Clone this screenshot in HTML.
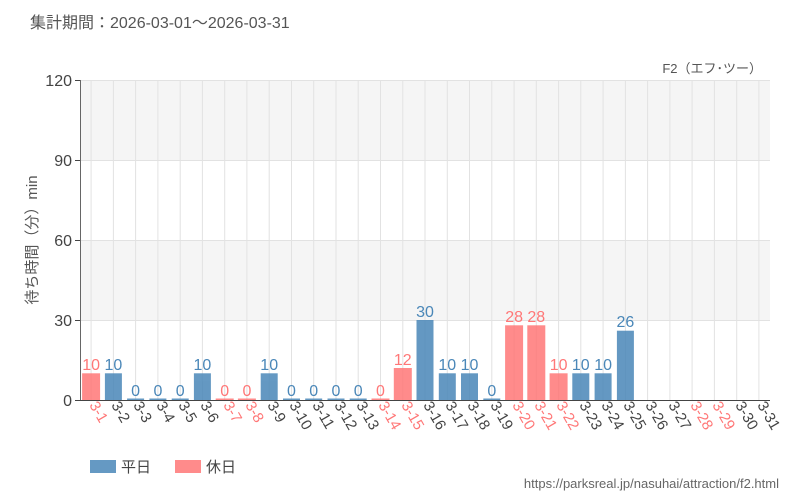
<!DOCTYPE html>
<html><head><meta charset="utf-8"><style>
body{margin:0;background:#fff;}
svg{display:block;font-family:"Liberation Sans","Noto Sans CJK JP",sans-serif;}
.v{font-family:"Liberation Sans Narrow","Liberation Sans",sans-serif;font-size:16px;text-anchor:middle;}
.b{fill:#4a87b8}.h{fill:#f77}
.x{font-size:15px;}
</style></head><body>
<svg width="800" height="500" viewBox="0 0 800 500">
<text x="30" y="28" font-size="16" fill="#555">集計期間：2026-03-01～2026-03-31</text>
<text x="762" y="73" font-size="13" fill="#555" text-anchor="end">F2（エフ･ツー）</text>
<rect x="80" y="80" width="690" height="80" fill="#f5f5f5"/>
<rect x="80" y="240" width="690" height="80" fill="#f5f5f5"/>
<g stroke="#e2e2e2" stroke-width="1">
<line x1="80" y1="80.5" x2="770" y2="80.5"/><line x1="80" y1="160.5" x2="770" y2="160.5"/><line x1="80" y1="240.5" x2="770" y2="240.5"/><line x1="80" y1="320.5" x2="770" y2="320.5"/>
<line x1="91.1" y1="80" x2="91.1" y2="400"/><line x1="113.4" y1="80" x2="113.4" y2="400"/><line x1="135.6" y1="80" x2="135.6" y2="400"/><line x1="157.9" y1="80" x2="157.9" y2="400"/><line x1="180.2" y1="80" x2="180.2" y2="400"/><line x1="202.4" y1="80" x2="202.4" y2="400"/><line x1="224.7" y1="80" x2="224.7" y2="400"/><line x1="246.9" y1="80" x2="246.9" y2="400"/><line x1="269.2" y1="80" x2="269.2" y2="400"/><line x1="291.5" y1="80" x2="291.5" y2="400"/><line x1="313.7" y1="80" x2="313.7" y2="400"/><line x1="336" y1="80" x2="336" y2="400"/><line x1="358.2" y1="80" x2="358.2" y2="400"/><line x1="380.5" y1="80" x2="380.5" y2="400"/><line x1="402.8" y1="80" x2="402.8" y2="400"/><line x1="425" y1="80" x2="425" y2="400"/><line x1="447.3" y1="80" x2="447.3" y2="400"/><line x1="469.5" y1="80" x2="469.5" y2="400"/><line x1="491.8" y1="80" x2="491.8" y2="400"/><line x1="514.1" y1="80" x2="514.1" y2="400"/><line x1="536.3" y1="80" x2="536.3" y2="400"/><line x1="558.6" y1="80" x2="558.6" y2="400"/><line x1="580.8" y1="80" x2="580.8" y2="400"/><line x1="603.1" y1="80" x2="603.1" y2="400"/><line x1="625.4" y1="80" x2="625.4" y2="400"/><line x1="647.6" y1="80" x2="647.6" y2="400"/><line x1="669.9" y1="80" x2="669.9" y2="400"/><line x1="692.1" y1="80" x2="692.1" y2="400"/><line x1="714.4" y1="80" x2="714.4" y2="400"/><line x1="736.7" y1="80" x2="736.7" y2="400"/><line x1="758.9" y1="80" x2="758.9" y2="400"/>
</g>
<g opacity="0.85">
<rect class="h" x="82.1" y="373.3" width="18" height="26.7"/>
<rect class="b" x="104.9" y="373.3" width="17" height="26.7"/>
<rect class="b" x="127.1" y="398.5" width="17" height="1.5"/>
<rect class="b" x="149.4" y="398.5" width="17" height="1.5"/>
<rect class="b" x="171.7" y="398.5" width="17" height="1.5"/>
<rect class="b" x="193.9" y="373.3" width="17" height="26.7"/>
<rect class="h" x="215.7" y="398.5" width="18" height="1.5"/>
<rect class="h" x="237.9" y="398.5" width="18" height="1.5"/>
<rect class="b" x="260.7" y="373.3" width="17" height="26.7"/>
<rect class="b" x="283" y="398.5" width="17" height="1.5"/>
<rect class="b" x="305.2" y="398.5" width="17" height="1.5"/>
<rect class="b" x="327.5" y="398.5" width="17" height="1.5"/>
<rect class="b" x="349.7" y="398.5" width="17" height="1.5"/>
<rect class="h" x="371.5" y="398.5" width="18" height="1.5"/>
<rect class="h" x="393.8" y="368" width="18" height="32"/>
<rect class="b" x="416.5" y="320" width="17" height="80"/>
<rect class="b" x="438.8" y="373.3" width="17" height="26.7"/>
<rect class="b" x="461" y="373.3" width="17" height="26.7"/>
<rect class="b" x="483.3" y="398.5" width="17" height="1.5"/>
<rect class="h" x="505.1" y="325.3" width="18" height="74.7"/>
<rect class="h" x="527.3" y="325.3" width="18" height="74.7"/>
<rect class="h" x="549.6" y="373.3" width="18" height="26.7"/>
<rect class="b" x="572.3" y="373.3" width="17" height="26.7"/>
<rect class="b" x="594.6" y="373.3" width="17" height="26.7"/>
<rect class="b" x="616.9" y="330.7" width="17" height="69.3"/>
</g>
<g class="v">
<text x="91.1" y="370" fill="#f77">10</text><text x="113.4" y="370" fill="#4a87b8">10</text><text x="135.6" y="396" fill="#4a87b8">0</text><text x="157.9" y="396" fill="#4a87b8">0</text><text x="180.2" y="396" fill="#4a87b8">0</text><text x="202.4" y="370" fill="#4a87b8">10</text><text x="224.7" y="396" fill="#f77">0</text><text x="246.9" y="396" fill="#f77">0</text><text x="269.2" y="370" fill="#4a87b8">10</text><text x="291.5" y="396" fill="#4a87b8">0</text><text x="313.7" y="396" fill="#4a87b8">0</text><text x="336" y="396" fill="#4a87b8">0</text><text x="358.2" y="396" fill="#4a87b8">0</text><text x="380.5" y="396" fill="#f77">0</text><text x="402.8" y="365" fill="#f77">12</text><text x="425" y="317" fill="#4a87b8">30</text><text x="447.3" y="370" fill="#4a87b8">10</text><text x="469.5" y="370" fill="#4a87b8">10</text><text x="491.8" y="396" fill="#4a87b8">0</text><text x="514.1" y="322" fill="#f77">28</text><text x="536.3" y="322" fill="#f77">28</text><text x="558.6" y="370" fill="#f77">10</text><text x="580.8" y="370" fill="#4a87b8">10</text><text x="603.1" y="370" fill="#4a87b8">10</text><text x="625.4" y="327" fill="#4a87b8">26</text>
</g>
<line x1="80.5" y1="80" x2="80.5" y2="400" stroke="#666"/>
<line x1="80" y1="400.5" x2="770" y2="400.5" stroke="#444"/>
<g stroke="#444"><line x1="75" y1="80.5" x2="80" y2="80.5"/><line x1="75" y1="160.5" x2="80" y2="160.5"/><line x1="75" y1="240.5" x2="80" y2="240.5"/><line x1="75" y1="320.5" x2="80" y2="320.5"/><line x1="75" y1="400.5" x2="80" y2="400.5"/></g>
<g font-size="16" fill="#444" text-anchor="end"><text x="72" y="86">120</text><text x="72" y="166">90</text><text x="72" y="246">60</text><text x="72" y="326">30</text><text x="72" y="406">0</text></g>
<text transform="translate(37,240) rotate(-90)" font-size="15" fill="#555" text-anchor="middle">待ち時間（分）min</text>
<g class="x">
<text transform="translate(89,405) rotate(60)" fill="#f77">3-1</text><text transform="translate(111,405) rotate(60)" fill="#444">3-2</text><text transform="translate(133,405) rotate(60)" fill="#444">3-3</text><text transform="translate(156,405) rotate(60)" fill="#444">3-4</text><text transform="translate(178,405) rotate(60)" fill="#444">3-5</text><text transform="translate(200,405) rotate(60)" fill="#444">3-6</text><text transform="translate(223,405) rotate(60)" fill="#f77">3-7</text><text transform="translate(245,405) rotate(60)" fill="#f77">3-8</text><text transform="translate(267,405) rotate(60)" fill="#444">3-9</text><text transform="translate(289,405) rotate(60)" fill="#444">3-10</text><text transform="translate(312,405) rotate(60)" fill="#444">3-11</text><text transform="translate(334,405) rotate(60)" fill="#444">3-12</text><text transform="translate(356,405) rotate(60)" fill="#444">3-13</text><text transform="translate(378,405) rotate(60)" fill="#f77">3-14</text><text transform="translate(401,405) rotate(60)" fill="#f77">3-15</text><text transform="translate(423,405) rotate(60)" fill="#444">3-16</text><text transform="translate(445,405) rotate(60)" fill="#444">3-17</text><text transform="translate(467,405) rotate(60)" fill="#444">3-18</text><text transform="translate(490,405) rotate(60)" fill="#444">3-19</text><text transform="translate(512,405) rotate(60)" fill="#f77">3-20</text><text transform="translate(534,405) rotate(60)" fill="#f77">3-21</text><text transform="translate(556,405) rotate(60)" fill="#f77">3-22</text><text transform="translate(579,405) rotate(60)" fill="#444">3-23</text><text transform="translate(601,405) rotate(60)" fill="#444">3-24</text><text transform="translate(623,405) rotate(60)" fill="#444">3-25</text><text transform="translate(645,405) rotate(60)" fill="#444">3-26</text><text transform="translate(668,405) rotate(60)" fill="#444">3-27</text><text transform="translate(690,405) rotate(60)" fill="#f77">3-28</text><text transform="translate(712,405) rotate(60)" fill="#f77">3-29</text><text transform="translate(735,405) rotate(60)" fill="#444">3-30</text><text transform="translate(757,405) rotate(60)" fill="#444">3-31</text>
</g>
<rect x="90" y="460" width="26" height="13" fill="#4a87b8" opacity="0.85"/>
<text x="121" y="472" font-size="15" fill="#444">平日</text>
<rect x="175" y="460" width="26" height="13" fill="#f77" opacity="0.85"/>
<text x="206" y="472" font-size="15" fill="#444">休日</text>
<text x="779" y="488" font-size="13" fill="#666" text-anchor="end">https://parksreal.jp/nasuhai/attraction/f2.html</text>
</svg>
</body></html>
